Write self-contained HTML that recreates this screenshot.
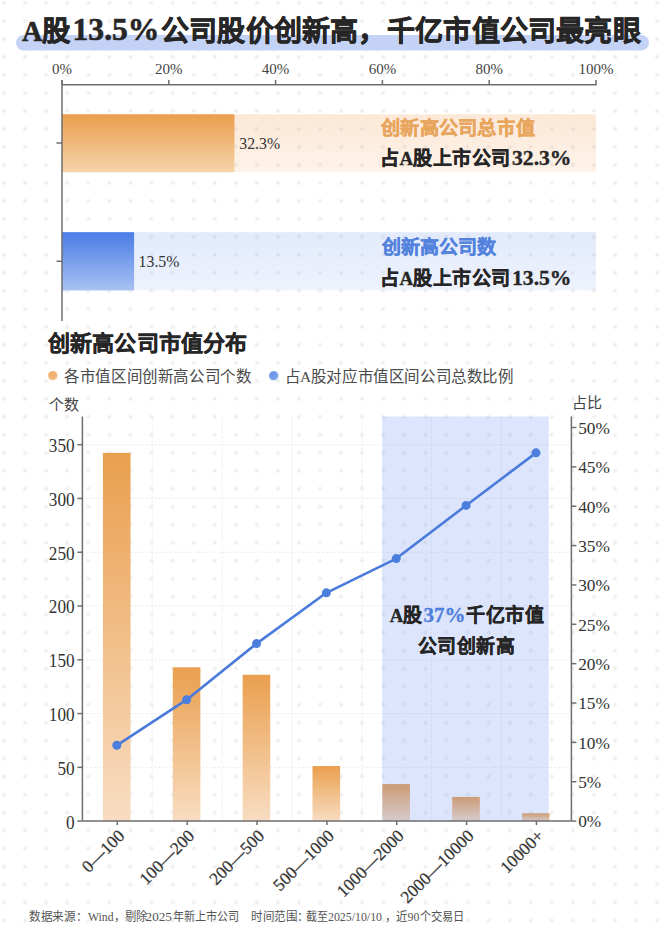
<!DOCTYPE html><html lang="zh-CN"><head><meta charset="utf-8"><style>
html,body{margin:0;padding:0;background:#fff;width:660px;height:934px;overflow:hidden}
svg{display:block}
text{font-family:'Liberation Serif', serif}
</style></head><body>
<svg width="660" height="934" viewBox="0 0 660 934">
<defs>
<radialGradient id="dg"><stop offset="0" stop-color="#eeeeee"/><stop offset="0.45" stop-color="#f1f1f1"/><stop offset="1" stop-color="#fff" stop-opacity="0"/></radialGradient>
<pattern id="dots" x="4.0" y="3.0" width="21.07" height="17.99" patternUnits="userSpaceOnUse">
<circle cx="0" cy="0" r="3.2" fill="url(#dg)"/><circle cx="21.07" cy="0" r="3.2" fill="url(#dg)"/><circle cx="0" cy="17.99" r="3.2" fill="url(#dg)"/><circle cx="21.07" cy="17.99" r="3.2" fill="url(#dg)"/>
</pattern>
<linearGradient id="gOr" x1="0" y1="0" x2="0" y2="1"><stop offset="0" stop-color="#EA9E4C"/><stop offset="1" stop-color="#F6D4AB"/></linearGradient>
<linearGradient id="gOrL" x1="0" y1="0" x2="0" y2="1"><stop offset="0" stop-color="rgb(240,150,70)" stop-opacity="0.22"/><stop offset="1" stop-color="rgb(240,150,70)" stop-opacity="0.115"/></linearGradient>
<linearGradient id="gBl" x1="0" y1="0" x2="0" y2="1"><stop offset="0" stop-color="#4A7DE6"/><stop offset="1" stop-color="#A9C1F3"/></linearGradient>
<linearGradient id="gBlL" x1="0" y1="0" x2="0" y2="1"><stop offset="0" stop-color="rgb(74,125,230)" stop-opacity="0.16"/><stop offset="1" stop-color="rgb(74,125,230)" stop-opacity="0.095"/></linearGradient>
<linearGradient id="gBar" x1="0" y1="0" x2="0" y2="1"><stop offset="0" stop-color="#EA9F4E"/><stop offset="1" stop-color="#F8DDC2"/></linearGradient>
<radialGradient id="gDotO" cx="0.4" cy="0.4" r="0.65"><stop offset="0" stop-color="#EFAB66"/><stop offset="0.7" stop-color="#F2B87E"/><stop offset="1" stop-color="#F8D8B4"/></radialGradient>
<radialGradient id="gDotB" cx="0.4" cy="0.4" r="0.65"><stop offset="0" stop-color="#6990E8"/><stop offset="0.7" stop-color="#7CA0EC"/><stop offset="1" stop-color="#B5CBF5"/></radialGradient>
</defs>
<rect x="0" y="0" width="660" height="934" fill="#fff"/>
<rect x="0" y="0" width="660" height="934" fill="url(#dots)"/>

<rect x="16" y="35" width="633" height="15.5" rx="7.75" fill="#C4D3F5"/>
<text x="22" y="40.5" font-size="28.8" font-weight="bold" fill="#262626" stroke="#262626" stroke-width="0.6" lengthAdjust="spacingAndGlyphs" textLength="49">A股</text>
<text x="72.5" y="40.3" font-size="32" font-weight="bold" fill="#262626" stroke="#262626" stroke-width="0.6" lengthAdjust="spacingAndGlyphs" textLength="87">13.5%</text>
<text x="161" y="40.5" font-size="28.8" font-weight="bold" fill="#262626" stroke="#262626" stroke-width="0.6" lengthAdjust="spacingAndGlyphs" textLength="225.6">公司股价创新高，</text>
<text x="387" y="40.5" font-size="28.8" font-weight="bold" fill="#262626" stroke="#262626" stroke-width="0.6" lengthAdjust="spacingAndGlyphs" textLength="253.8">千亿市值公司最亮眼</text>
<rect x="62" y="114.3" width="534" height="57.9" fill="url(#gOrL)"/>
<rect x="62" y="114.3" width="172.48" height="57.9" fill="url(#gOr)"/>
<rect x="62" y="232.2" width="534" height="58.2" fill="url(#gBlL)"/>
<rect x="62" y="232.2" width="72.09" height="58.2" fill="url(#gBl)"/>
<line x1="62" y1="84.8" x2="596.75" y2="84.8" stroke="#6e6e6e" stroke-width="1.5"/>
<line x1="62" y1="80" x2="62" y2="321" stroke="#6e6e6e" stroke-width="1.5"/>
<line x1="62.00" y1="80" x2="62.00" y2="84.8" stroke="#6e6e6e" stroke-width="1.5"/>
<text x="62.00" y="74.4" font-size="15" fill="#444" text-anchor="middle">0%</text>
<line x1="168.80" y1="80" x2="168.80" y2="84.8" stroke="#6e6e6e" stroke-width="1.5"/>
<text x="168.80" y="74.4" font-size="15" fill="#444" text-anchor="middle">20%</text>
<line x1="275.60" y1="80" x2="275.60" y2="84.8" stroke="#6e6e6e" stroke-width="1.5"/>
<text x="275.60" y="74.4" font-size="15" fill="#444" text-anchor="middle">40%</text>
<line x1="382.40" y1="80" x2="382.40" y2="84.8" stroke="#6e6e6e" stroke-width="1.5"/>
<text x="382.40" y="74.4" font-size="15" fill="#444" text-anchor="middle">60%</text>
<line x1="489.20" y1="80" x2="489.20" y2="84.8" stroke="#6e6e6e" stroke-width="1.5"/>
<text x="489.20" y="74.4" font-size="15" fill="#444" text-anchor="middle">80%</text>
<line x1="596.00" y1="80" x2="596.00" y2="84.8" stroke="#6e6e6e" stroke-width="1.5"/>
<text x="596.00" y="74.4" font-size="15" fill="#444" text-anchor="middle">100%</text>
<line x1="56.5" y1="143" x2="62" y2="143" stroke="#6e6e6e" stroke-width="1.5"/>
<line x1="56.5" y1="261.3" x2="62" y2="261.3" stroke="#6e6e6e" stroke-width="1.5"/>
<text x="239.3" y="148.8" font-size="15.8" fill="#333">32.3%</text>
<text x="138.6" y="266.6" font-size="15.8" fill="#333">13.5%</text>
<text x="381" y="134.5" font-weight="bold" stroke="#E8A55C" stroke-width="0.35" font-size="19" fill="#E8A55C" textLength="154" lengthAdjust="spacingAndGlyphs">创新高公司总市值</text>
<text x="380" y="164.5" font-weight="bold" stroke="#262626" stroke-width="0.35" font-size="19.5" fill="#262626" textLength="131" lengthAdjust="spacingAndGlyphs">占A股上市公司</text><text x="512" y="165.3" font-weight="bold" stroke="#262626" stroke-width="0.35" font-size="21" fill="#262626" textLength="59.5" lengthAdjust="spacingAndGlyphs">32.3%</text>
<text x="382" y="253.5" font-weight="bold" stroke="#5383DD" stroke-width="0.35" font-size="19" fill="#5383DD" textLength="114" lengthAdjust="spacingAndGlyphs">创新高公司数</text>
<text x="380" y="284.5" font-weight="bold" stroke="#262626" stroke-width="0.35" font-size="19.5" fill="#262626" textLength="131" lengthAdjust="spacingAndGlyphs">占A股上市公司</text><text x="512" y="285.3" font-weight="bold" stroke="#262626" stroke-width="0.35" font-size="21" fill="#262626" textLength="59.5" lengthAdjust="spacingAndGlyphs">13.5%</text>
<text x="48" y="351" font-weight="bold" font-size="22" fill="#262626" stroke="#262626" stroke-width="0.4" textLength="199">创新高公司市值分布</text>
<circle cx="52.9" cy="375.7" r="4.8" fill="url(#gDotO)"/>
<text x="64" y="382" font-size="15.5" fill="#4a4a4a" textLength="188">各市值区间创新高公司个数</text>
<circle cx="273.8" cy="375.8" r="4.8" fill="url(#gDotB)"/>
<text x="284.5" y="382" font-size="15.5" fill="#4a4a4a" textLength="229.5">占A股对应市值区间公司总数比例</text>
<text x="48.5" y="410" font-size="15" fill="#444">个数</text>
<text x="572" y="407.5" font-size="15" fill="#444">占比</text>
<line x1="82.4" y1="767.33" x2="571.4" y2="767.33" stroke="#e9e9e9" stroke-width="1" stroke-dasharray="2 2"/>
<line x1="82.4" y1="713.56" x2="571.4" y2="713.56" stroke="#e9e9e9" stroke-width="1" stroke-dasharray="2 2"/>
<line x1="82.4" y1="659.79" x2="571.4" y2="659.79" stroke="#e9e9e9" stroke-width="1" stroke-dasharray="2 2"/>
<line x1="82.4" y1="606.02" x2="571.4" y2="606.02" stroke="#e9e9e9" stroke-width="1" stroke-dasharray="2 2"/>
<line x1="82.4" y1="552.25" x2="571.4" y2="552.25" stroke="#e9e9e9" stroke-width="1" stroke-dasharray="2 2"/>
<line x1="82.4" y1="498.48" x2="571.4" y2="498.48" stroke="#e9e9e9" stroke-width="1" stroke-dasharray="2 2"/>
<line x1="82.4" y1="444.71" x2="571.4" y2="444.71" stroke="#e9e9e9" stroke-width="1" stroke-dasharray="2 2"/>
<line x1="152.26" y1="416.5" x2="152.26" y2="821.1" stroke="#e9e9e9" stroke-width="1" stroke-dasharray="2 2"/>
<line x1="222.11" y1="416.5" x2="222.11" y2="821.1" stroke="#e9e9e9" stroke-width="1" stroke-dasharray="2 2"/>
<line x1="291.97" y1="416.5" x2="291.97" y2="821.1" stroke="#e9e9e9" stroke-width="1" stroke-dasharray="2 2"/>
<line x1="361.83" y1="416.5" x2="361.83" y2="821.1" stroke="#e9e9e9" stroke-width="1" stroke-dasharray="2 2"/>
<line x1="431.69" y1="416.5" x2="431.69" y2="821.1" stroke="#e9e9e9" stroke-width="1" stroke-dasharray="2 2"/>
<line x1="501.54" y1="416.5" x2="501.54" y2="821.1" stroke="#e9e9e9" stroke-width="1" stroke-dasharray="2 2"/>
<rect x="102.93" y="452.88" width="27.6" height="368.22" fill="url(#gBar)"/>
<rect x="172.79" y="667.32" width="27.6" height="153.78" fill="url(#gBar)"/>
<rect x="242.64" y="674.74" width="27.6" height="146.36" fill="url(#gBar)"/>
<rect x="312.50" y="766.04" width="27.6" height="55.06" fill="url(#gBar)"/>
<rect x="382.36" y="784.11" width="27.6" height="36.99" fill="url(#gBar)"/>
<rect x="452.21" y="796.90" width="27.6" height="24.20" fill="url(#gBar)"/>
<rect x="522.07" y="813.25" width="27.6" height="7.85" fill="url(#gBar)"/>
<rect x="382.16" y="416.5" width="166.51" height="404.60" fill="rgb(109,147,242)" fill-opacity="0.24"/>
<polyline points="116.83,745.29 186.69,699.71 256.54,643.59 326.40,592.81 396.26,558.57 466.11,505.43 535.97,452.85" fill="none" stroke="#4A7BDB" stroke-width="2.6" stroke-linejoin="round"/>
<circle cx="116.83" cy="745.29" r="4.5" fill="#4C7EDE"/>
<circle cx="186.69" cy="699.71" r="4.5" fill="#4C7EDE"/>
<circle cx="256.54" cy="643.59" r="4.5" fill="#4C7EDE"/>
<circle cx="326.40" cy="592.81" r="4.5" fill="#4C7EDE"/>
<circle cx="396.26" cy="558.57" r="4.5" fill="#4C7EDE"/>
<circle cx="466.11" cy="505.43" r="4.5" fill="#4C7EDE"/>
<circle cx="535.97" cy="452.85" r="4.5" fill="#4C7EDE"/>
<line x1="82.4" y1="416.5" x2="82.4" y2="821.1" stroke="#6e6e6e" stroke-width="1.5"/>
<line x1="571.4" y1="416.5" x2="571.4" y2="821.1" stroke="#6e6e6e" stroke-width="1.5"/>
<line x1="82.4" y1="821.1" x2="571.4" y2="821.1" stroke="#6e6e6e" stroke-width="1.5"/>
<line x1="77.4" y1="821.10" x2="82.4" y2="821.10" stroke="#6e6e6e" stroke-width="1.5"/>
<text x="74.6" y="828.50" font-size="18.2" fill="#333" text-anchor="end" textLength="8.6" lengthAdjust="spacingAndGlyphs">0</text>
<line x1="77.4" y1="767.33" x2="82.4" y2="767.33" stroke="#6e6e6e" stroke-width="1.5"/>
<text x="74.6" y="774.73" font-size="18.2" fill="#333" text-anchor="end" textLength="17.2" lengthAdjust="spacingAndGlyphs">50</text>
<line x1="77.4" y1="713.56" x2="82.4" y2="713.56" stroke="#6e6e6e" stroke-width="1.5"/>
<text x="74.6" y="720.96" font-size="18.2" fill="#333" text-anchor="end" textLength="25.8" lengthAdjust="spacingAndGlyphs">100</text>
<line x1="77.4" y1="659.79" x2="82.4" y2="659.79" stroke="#6e6e6e" stroke-width="1.5"/>
<text x="74.6" y="667.19" font-size="18.2" fill="#333" text-anchor="end" textLength="25.8" lengthAdjust="spacingAndGlyphs">150</text>
<line x1="77.4" y1="606.02" x2="82.4" y2="606.02" stroke="#6e6e6e" stroke-width="1.5"/>
<text x="74.6" y="613.42" font-size="18.2" fill="#333" text-anchor="end" textLength="25.8" lengthAdjust="spacingAndGlyphs">200</text>
<line x1="77.4" y1="552.25" x2="82.4" y2="552.25" stroke="#6e6e6e" stroke-width="1.5"/>
<text x="74.6" y="559.65" font-size="18.2" fill="#333" text-anchor="end" textLength="25.8" lengthAdjust="spacingAndGlyphs">250</text>
<line x1="77.4" y1="498.48" x2="82.4" y2="498.48" stroke="#6e6e6e" stroke-width="1.5"/>
<text x="74.6" y="505.88" font-size="18.2" fill="#333" text-anchor="end" textLength="25.8" lengthAdjust="spacingAndGlyphs">300</text>
<line x1="77.4" y1="444.71" x2="82.4" y2="444.71" stroke="#6e6e6e" stroke-width="1.5"/>
<text x="74.6" y="452.11" font-size="18.2" fill="#333" text-anchor="end" textLength="25.8" lengthAdjust="spacingAndGlyphs">350</text>
<line x1="571.4" y1="821.10" x2="576.4" y2="821.10" stroke="#6e6e6e" stroke-width="1.5"/>
<text x="578.2" y="827.40" font-size="17.3" fill="#333">0%</text>
<line x1="571.4" y1="781.74" x2="576.4" y2="781.74" stroke="#6e6e6e" stroke-width="1.5"/>
<text x="578.2" y="788.04" font-size="17.3" fill="#333">5%</text>
<line x1="571.4" y1="742.38" x2="576.4" y2="742.38" stroke="#6e6e6e" stroke-width="1.5"/>
<text x="578.2" y="748.68" font-size="17.3" fill="#333">10%</text>
<line x1="571.4" y1="703.02" x2="576.4" y2="703.02" stroke="#6e6e6e" stroke-width="1.5"/>
<text x="578.2" y="709.32" font-size="17.3" fill="#333">15%</text>
<line x1="571.4" y1="663.66" x2="576.4" y2="663.66" stroke="#6e6e6e" stroke-width="1.5"/>
<text x="578.2" y="669.96" font-size="17.3" fill="#333">20%</text>
<line x1="571.4" y1="624.30" x2="576.4" y2="624.30" stroke="#6e6e6e" stroke-width="1.5"/>
<text x="578.2" y="630.60" font-size="17.3" fill="#333">25%</text>
<line x1="571.4" y1="584.94" x2="576.4" y2="584.94" stroke="#6e6e6e" stroke-width="1.5"/>
<text x="578.2" y="591.24" font-size="17.3" fill="#333">30%</text>
<line x1="571.4" y1="545.58" x2="576.4" y2="545.58" stroke="#6e6e6e" stroke-width="1.5"/>
<text x="578.2" y="551.88" font-size="17.3" fill="#333">35%</text>
<line x1="571.4" y1="506.22" x2="576.4" y2="506.22" stroke="#6e6e6e" stroke-width="1.5"/>
<text x="578.2" y="512.52" font-size="17.3" fill="#333">40%</text>
<line x1="571.4" y1="466.86" x2="576.4" y2="466.86" stroke="#6e6e6e" stroke-width="1.5"/>
<text x="578.2" y="473.16" font-size="17.3" fill="#333">45%</text>
<line x1="571.4" y1="427.50" x2="576.4" y2="427.50" stroke="#6e6e6e" stroke-width="1.5"/>
<text x="578.2" y="433.80" font-size="17.3" fill="#333">50%</text>
<line x1="117.33" y1="821.1" x2="117.33" y2="825.1" stroke="#6e6e6e" stroke-width="1.5"/>
<text transform="translate(125.53,836.9) rotate(-45)" x="0" y="0" font-size="17.3" fill="#333" stroke="#333" stroke-width="0.25" text-anchor="end">0—100</text>
<line x1="187.19" y1="821.1" x2="187.19" y2="825.1" stroke="#6e6e6e" stroke-width="1.5"/>
<text transform="translate(195.39,836.9) rotate(-45)" x="0" y="0" font-size="17.3" fill="#333" stroke="#333" stroke-width="0.25" text-anchor="end">100—200</text>
<line x1="257.04" y1="821.1" x2="257.04" y2="825.1" stroke="#6e6e6e" stroke-width="1.5"/>
<text transform="translate(265.24,836.9) rotate(-45)" x="0" y="0" font-size="17.3" fill="#333" stroke="#333" stroke-width="0.25" text-anchor="end">200—500</text>
<line x1="326.90" y1="821.1" x2="326.90" y2="825.1" stroke="#6e6e6e" stroke-width="1.5"/>
<text transform="translate(335.10,836.9) rotate(-45)" x="0" y="0" font-size="17.3" fill="#333" stroke="#333" stroke-width="0.25" text-anchor="end">500—1000</text>
<line x1="396.76" y1="821.1" x2="396.76" y2="825.1" stroke="#6e6e6e" stroke-width="1.5"/>
<text transform="translate(404.96,836.9) rotate(-45)" x="0" y="0" font-size="17.3" fill="#333" stroke="#333" stroke-width="0.25" text-anchor="end">1000—2000</text>
<line x1="466.61" y1="821.1" x2="466.61" y2="825.1" stroke="#6e6e6e" stroke-width="1.5"/>
<text transform="translate(474.81,836.9) rotate(-45)" x="0" y="0" font-size="17.3" fill="#333" stroke="#333" stroke-width="0.25" text-anchor="end">2000—10000</text>
<line x1="536.47" y1="821.1" x2="536.47" y2="825.1" stroke="#6e6e6e" stroke-width="1.5"/>
<text transform="translate(544.67,836.9) rotate(-45)" x="0" y="0" font-size="17.3" fill="#333" stroke="#333" stroke-width="0.25" text-anchor="end">10000+</text>
<text x="389.8" y="621.5" font-weight="bold" stroke="#262626" stroke-width="0.35" font-size="19.5" fill="#262626" textLength="33" lengthAdjust="spacingAndGlyphs">A股</text><text x="423.5" y="621.8" font-weight="bold" stroke="#4F7FDC" stroke-width="0.35" font-size="21.5" fill="#4F7FDC" textLength="42" lengthAdjust="spacingAndGlyphs">37%</text><text x="466" y="621.5" font-weight="bold" stroke="#262626" stroke-width="0.35" font-size="19.5" fill="#262626" textLength="78" lengthAdjust="spacingAndGlyphs">千亿市值</text>
<text x="418" y="652.5" font-weight="bold" stroke="#262626" stroke-width="0.35" font-size="19.5" fill="#262626" textLength="97" lengthAdjust="spacingAndGlyphs">公司创新高</text>
<text x="29.3" y="921" font-size="12" fill="#555" textLength="58" lengthAdjust="spacingAndGlyphs">数据来源：</text><text x="88" y="921" font-size="13" fill="#555" textLength="25.5" lengthAdjust="spacingAndGlyphs">Wind</text><text x="113.5" y="921" font-size="12" fill="#555" textLength="34" lengthAdjust="spacingAndGlyphs">，剔除</text><text x="145.6" y="921" font-size="13" fill="#555" textLength="26.3" lengthAdjust="spacingAndGlyphs">2025</text><text x="172.6" y="921" font-size="12" fill="#555" textLength="66.5" lengthAdjust="spacingAndGlyphs">年新上市公司</text><text x="251" y="921" font-size="12" fill="#555" textLength="57.5" lengthAdjust="spacingAndGlyphs">时间范围：</text><text x="306.2" y="921" font-size="12" fill="#555" textLength="22" lengthAdjust="spacingAndGlyphs">截至</text><text x="328" y="921" font-size="13" fill="#555" textLength="54" lengthAdjust="spacingAndGlyphs">2025/10/10</text><text x="384.5" y="921" font-size="12" fill="#555" textLength="23" lengthAdjust="spacingAndGlyphs">，近</text><text x="407.6" y="921" font-size="13" fill="#555" textLength="11.8" lengthAdjust="spacingAndGlyphs">90</text><text x="419.5" y="921" font-size="12" fill="#555" textLength="45" lengthAdjust="spacingAndGlyphs">个交易日</text>
</svg></body></html>
